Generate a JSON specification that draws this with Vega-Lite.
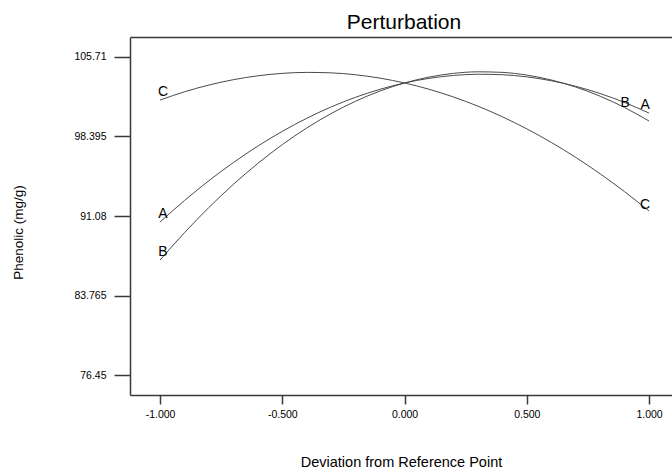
{
  "$schema": "https://vega.github.io/schema/vega-lite/v6.json",
  "autosize": "none",
  "padding": {"left": 130, "top": 37, "right": 0, "bottom": 77},
  "width": 542,
  "height": 358,
  "background": "white",
  "title": {"text": "Perturbation", "fontSize": 21, "font": "Liberation Sans", "fontWeight": "normal", "color": "black", "offset": 4, "dx": 3},
  "config": {
    "view": {"stroke": null},
    "font": "Liberation Sans",
    "axis": {"domainColor": "#3a3a3a", "domainWidth": 1.5, "tickColor": "#3a3a3a", "tickWidth": 1.5, "grid": false, "labelFont": "Liberation Sans", "titleFont": "Liberation Sans", "labelColor": "black", "titleColor": "black", "titleFontWeight": "normal", "labelFontSize": 10.5, "titleFontSize": 14}
  },
  "datasets": {
    "curves": [
      {"x": -1.0, "A": 90.53, "B": 87.03, "C": 101.75},
      {"x": -0.9, "A": 92.509, "B": 89.55, "C": 102.508},
      {"x": -0.8, "A": 94.333, "B": 91.871, "C": 103.132},
      {"x": -0.7, "A": 95.999, "B": 93.995, "C": 103.623},
      {"x": -0.6, "A": 97.513, "B": 95.921, "C": 103.98},
      {"x": -0.5, "A": 98.87, "B": 97.649, "C": 104.204},
      {"x": -0.4, "A": 100.071, "B": 99.179, "C": 104.294},
      {"x": -0.3, "A": 101.117, "B": 100.511, "C": 104.251},
      {"x": -0.2, "A": 102.007, "B": 101.645, "C": 104.074},
      {"x": -0.1, "A": 102.741, "B": 102.582, "C": 103.764},
      {"x": 0.0, "A": 103.32, "B": 103.32, "C": 103.32},
      {"x": 0.1, "A": 103.743, "B": 103.861, "C": 102.743},
      {"x": 0.2, "A": 104.011, "B": 104.203, "C": 102.032},
      {"x": 0.3, "A": 104.123, "B": 104.348, "C": 101.188},
      {"x": 0.4, "A": 104.079, "B": 104.295, "C": 100.21},
      {"x": 0.5, "A": 103.88, "B": 104.044, "C": 99.099},
      {"x": 0.6, "A": 103.525, "B": 103.595, "C": 97.854},
      {"x": 0.7, "A": 103.015, "B": 102.948, "C": 96.476},
      {"x": 0.8, "A": 102.349, "B": 102.103, "C": 94.964},
      {"x": 0.9, "A": 101.527, "B": 101.061, "C": 93.319},
      {"x": 1.0, "A": 100.55, "B": 99.82, "C": 91.54}
    ],
    "labels": [
      {"factor": "C", "x": -0.988, "y": 102.49},
      {"factor": "A", "x": -0.988, "y": 91.26},
      {"factor": "B", "x": -0.988, "y": 87.77},
      {"factor": "A", "x": 0.984, "y": 101.29},
      {"factor": "B", "x": 0.902, "y": 101.48},
      {"factor": "C", "x": 0.984, "y": 92.09}
    ]
  },
  "resolve": {"axis": {"x": "independent"}},
  "layer": [
    {
      "data": {"name": "curves"},
      "transform": [{"fold": ["A", "B", "C"], "as": ["factor", "value"]}],
      "mark": {"type": "line", "interpolate": "monotone", "color": "#4a4a4a", "strokeWidth": 1, "clip": true},
      "encoding": {
        "x": {"field": "x", "type": "quantitative", "scale": {"domain": [-1.123, 1.094], "nice": false, "zero": false},
          "axis": {"orient": "bottom", "title": "Deviation from Reference Point", "titleFontSize": 14.5, "values": [-1, -0.5, 0, 0.5, 1],
            "labelExpr": "datum.value < 0 ? '-' + format(-datum.value, '.3f') : format(datum.value, '.3f')",
            "tickSize": 9, "labelPadding": 5, "titlePadding": 36, "labelFlush": false, "labelOverlap": false}},
        "y": {"field": "value", "type": "quantitative", "scale": {"domain": [74.61, 107.55], "nice": false, "zero": false},
          "axis": {"title": "Phenolic (mg/g)", "titleFontSize": 13.5, "titleY": 195, "values": [76.45, 83.765, 91.08, 98.395, 105.71], "format": ".5~r",
            "tickSize": 16, "labelPadding": 8, "titlePadding": 48, "labelFlush": false, "labelOverlap": false}},
        "detail": {"field": "factor"}
      }
    },
    {
      "data": {"name": "labels"},
      "mark": {"type": "text", "fontSize": 14, "font": "Liberation Sans", "color": "black", "align": "center", "baseline": "middle"},
      "encoding": {
        "x": {"field": "x", "type": "quantitative", "axis": {"orient": "top", "title": null, "labels": false, "ticks": false, "domain": true}},
        "y": {"field": "y", "type": "quantitative"},
        "text": {"field": "factor"}
      }
    }
  ]
}
